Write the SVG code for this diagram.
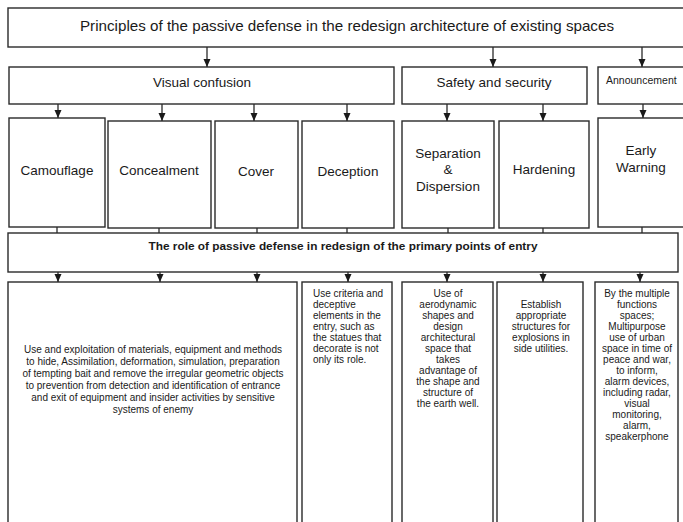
<svg xmlns="http://www.w3.org/2000/svg" width="683" height="522" viewBox="0 0 683 522">
<defs>
<marker id="ah" markerUnits="userSpaceOnUse" markerWidth="8" markerHeight="8" viewBox="0 0 8 8" refX="8" refY="4" orient="auto">
<path d="M0,0.5 L8,4 L0,7.5 Z" fill="#1a1a1a"/>
</marker>
<style>
rect{fill:#fff;stroke:#2a2a2a;stroke-width:1.4}
.c line{stroke:#2a2a2a;stroke-width:1.3}
.a{marker-end:url(#ah)}
text{font-family:"Liberation Sans",Arial,sans-serif;fill:#1a1a1a;text-anchor:middle}
.h{font-size:13.5px}
.t{font-size:15px}
.r{font-size:10.5px;font-weight:bold}
.s{font-size:10px}
.an{font-size:10.5px;text-anchor:start}
.l{text-anchor:start}
</style>
</defs>
<g id="title"><rect x="8" y="8" width="680" height="39"/><text class="t" x="347" y="31" textLength="534" lengthAdjust="spacingAndGlyphs">Principles of the passive defense in the redesign architecture of existing spaces</text></g>
<g id="visual-confusion"><rect x="9" y="67" width="385" height="37"/><text class="h" x="202" y="87">Visual confusion</text></g>
<g id="safety"><rect x="402" y="67" width="185" height="37"/><text class="h" x="494" y="87">Safety and security</text></g>
<g id="announcement"><rect x="598" y="67" width="95" height="37"/><text class="an" x="606" y="84">Announcement</text></g>
<g id="camouflage"><rect x="9" y="118" width="96" height="109"/><text class="h" x="57" y="175">Camouflage</text></g>
<g id="concealment"><rect x="108" y="121" width="103" height="107"/><text class="h" x="159" y="175">Concealment</text></g>
<g id="cover"><rect x="215" y="121" width="83" height="107"/><text class="h" x="256" y="176">Cover</text></g>
<g id="deception"><rect x="302" y="121" width="92" height="107"/><text class="h" x="348" y="176">Deception</text></g>
<g id="separation"><rect x="402" y="121" width="92" height="107"/><text class="h" x="448" y="158">Separation</text><text class="h" x="448" y="174">&amp;</text><text class="h" x="448" y="191">Dispersion</text></g>
<g id="hardening"><rect x="499" y="121" width="90" height="107"/><text class="h" x="544" y="174">Hardening</text></g>
<g id="early-warning"><rect x="598" y="118" width="90" height="109"/><text class="h" x="641" y="155">Early</text><text class="h" x="641" y="172">Warning</text></g>
<g id="role"><rect x="8" y="233" width="670" height="39"/><text class="r" x="343" y="250" textLength="389" lengthAdjust="spacingAndGlyphs">The role of passive defense in redesign of the primary points of entry</text></g>
<g id="desc-visual"><rect x="8" y="282" width="289" height="260"/>
<text class="s" x="153" y="353">Use and exploitation of materials, equipment and methods</text>
<text class="s" x="153" y="365">to hide, Assimilation, deformation, simulation, preparation</text>
<text class="s" x="153" y="377">of tempting bait and remove the irregular geometric objects</text>
<text class="s" x="153" y="389">to prevention from detection and identification of entrance</text>
<text class="s" x="153" y="401">and exit of equipment and insider activities by sensitive</text>
<text class="s" x="153" y="413">systems of enemy</text>
</g>
<g id="desc-deception"><rect x="302" y="282" width="90" height="260"/>
<text class="s l" x="313" y="297">Use criteria and</text>
<text class="s l" x="313" y="308">deceptive</text>
<text class="s l" x="313" y="319">elements in the</text>
<text class="s l" x="313" y="330">entry, such as</text>
<text class="s l" x="313" y="341">the statues that</text>
<text class="s l" x="313" y="352">decorate is not</text>
<text class="s l" x="313" y="363">only its role.</text>
</g>
<g id="desc-separation"><rect x="402" y="282" width="91" height="260"/>
<text class="s" x="448" y="297">Use of</text>
<text class="s" x="448" y="308">aerodynamic</text>
<text class="s" x="448" y="319">shapes and</text>
<text class="s" x="448" y="330">design</text>
<text class="s" x="448" y="341">architectural</text>
<text class="s" x="448" y="352">space that</text>
<text class="s" x="448" y="363">takes</text>
<text class="s" x="448" y="374">advantage of</text>
<text class="s" x="448" y="385">the shape and</text>
<text class="s" x="448" y="396">structure of</text>
<text class="s" x="448" y="407">the earth well.</text>
</g>
<g id="desc-hardening"><rect x="497" y="282" width="86" height="260"/>
<text class="s" x="541" y="308">Establish</text>
<text class="s" x="541" y="319">appropriate</text>
<text class="s" x="541" y="330">structures for</text>
<text class="s" x="541" y="341">explosions in</text>
<text class="s" x="541" y="352">side utilities.</text>
</g>
<g id="desc-warning"><rect x="595" y="282" width="83" height="260"/>
<text class="s" x="637" y="297">By the multiple</text>
<text class="s" x="637" y="308">functions</text>
<text class="s" x="637" y="319">spaces;</text>
<text class="s" x="637" y="330">Multipurpose</text>
<text class="s" x="637" y="341">use of urban</text>
<text class="s" x="637" y="352">space in time of</text>
<text class="s" x="637" y="363">peace and war,</text>
<text class="s" x="637" y="374">to inform,</text>
<text class="s" x="637" y="385">alarm devices,</text>
<text class="s" x="637" y="396">including radar,</text>
<text class="s" x="637" y="407">visual</text>
<text class="s" x="637" y="418">monitoring,</text>
<text class="s" x="637" y="429">alarm,</text>
<text class="s" x="637" y="440">speakerphone</text>
</g>
<g id="connectors" class="c">
<line class="a" x1="207" y1="47" x2="207" y2="67"/>
<line class="a" x1="493" y1="47" x2="493" y2="67"/>
<line class="a" x1="642" y1="47" x2="642" y2="67"/>
<line class="a" x1="58" y1="104" x2="58" y2="118"/>
<line class="a" x1="162" y1="104" x2="162" y2="121"/>
<line class="a" x1="254" y1="104" x2="254" y2="121"/>
<line class="a" x1="347" y1="104" x2="347" y2="121"/>
<line class="a" x1="447" y1="104" x2="447" y2="121"/>
<line class="a" x1="543" y1="104" x2="543" y2="121"/>
<line class="a" x1="643" y1="104" x2="643" y2="118"/>
<line x1="57" y1="227" x2="57" y2="233"/>
<line x1="159" y1="228" x2="159" y2="233"/>
<line x1="257" y1="228" x2="257" y2="233"/>
<line x1="347" y1="228" x2="347" y2="233"/>
<line x1="448" y1="228" x2="448" y2="233"/>
<line x1="543" y1="228" x2="543" y2="233"/>
<line x1="642" y1="227" x2="642" y2="233"/>
<line class="a" x1="58" y1="272" x2="58" y2="282"/>
<line class="a" x1="160" y1="272" x2="160" y2="282"/>
<line class="a" x1="257" y1="272" x2="257" y2="282"/>
<line class="a" x1="348" y1="272" x2="348" y2="282"/>
<line class="a" x1="447" y1="272" x2="447" y2="282"/>
<line class="a" x1="543" y1="272" x2="543" y2="282"/>
<line class="a" x1="640" y1="272" x2="640" y2="282"/>
</g>
</svg>
